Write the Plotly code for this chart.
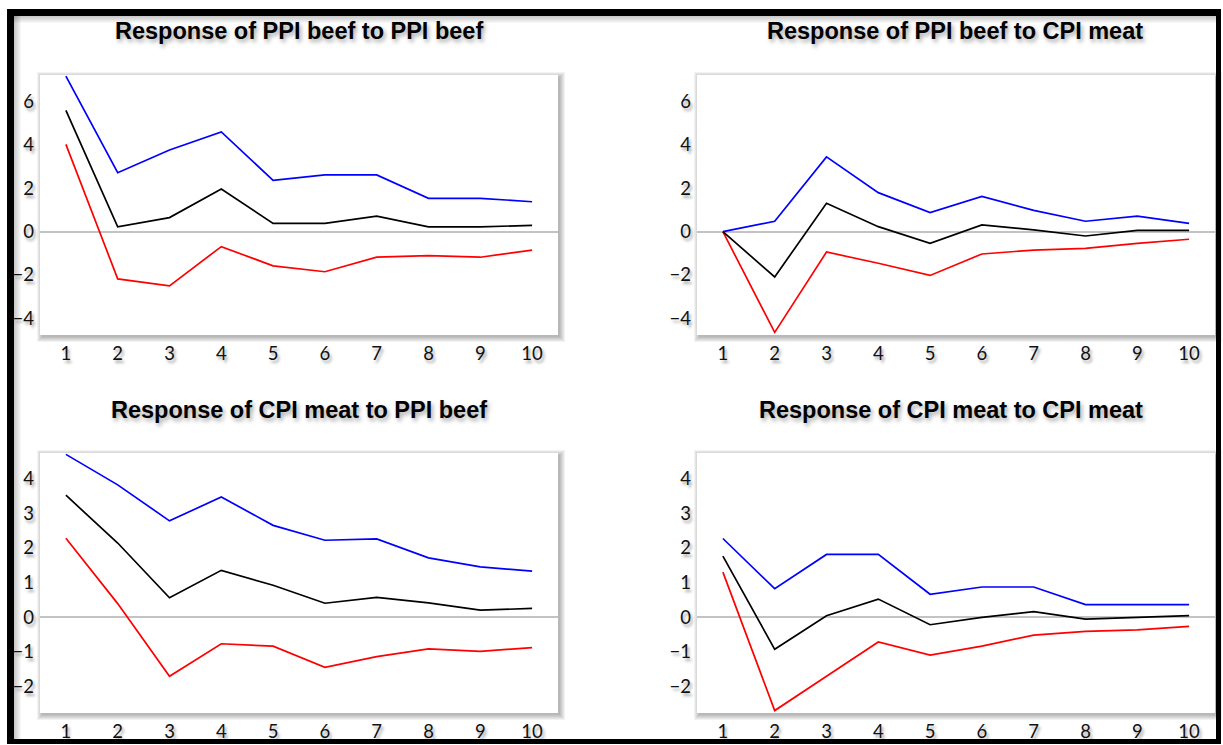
import plotly.graph_objects as go

# ---------------- data ----------------
periods = [1, 2, 3, 4, 5, 6, 7, 8, 9, 10]

titles = [
    "Response of PPI beef to PPI beef",
    "Response of PPI beef to CPI meat",
    "Response of CPI meat to PPI beef",
    "Response of CPI meat to CPI meat",
]

# Response of PPI beef to PPI beef
p1_upper = [7.18, 2.72, 3.77, 4.60, 2.37, 2.62, 2.62, 1.54, 1.54, 1.38]
p1_irf   = [5.60, 0.22, 0.65, 1.97, 0.38, 0.38, 0.72, 0.22, 0.22, 0.29]
p1_lower = [4.03, -2.18, -2.50, -0.69, -1.58, -1.85, -1.18, -1.11, -1.18, -0.85]

# Response of PPI beef to CPI meat
p2_upper = [0.00, 0.48, 3.45, 1.80, 0.88, 1.63, 0.98, 0.48, 0.72, 0.38]
p2_irf   = [0.00, -2.09, 1.31, 0.23, -0.54, 0.31, 0.08, -0.20, 0.06, 0.06]
p2_lower = [0.00, -4.65, -0.94, -1.46, -2.02, -1.03, -0.85, -0.77, -0.54, -0.35]

# Response of CPI meat to PPI beef
p3_upper = [4.70, 3.82, 2.78, 3.47, 2.65, 2.22, 2.26, 1.71, 1.45, 1.33]
p3_irf   = [3.52, 2.14, 0.56, 1.35, 0.92, 0.40, 0.57, 0.41, 0.20, 0.25]
p3_lower = [2.28, 0.39, -1.71, -0.77, -0.84, -1.45, -1.14, -0.92, -0.99, -0.88]

# Response of CPI meat to CPI meat
p4_upper = [2.27, 0.82, 1.81, 1.81, 0.66, 0.87, 0.87, 0.36, 0.36, 0.36]
p4_irf   = [1.76, -0.93, 0.04, 0.52, -0.22, -0.01, 0.16, -0.06, -0.01, 0.04]
p4_lower = [1.30, -2.70, -1.71, -0.72, -1.10, -0.84, -0.52, -0.41, -0.37, -0.27]

yticks_top = [-4, -2, 0, 2, 4, 6]
yticks_bottom = [-2, -1, 0, 1, 2, 3, 4]

# ---------------- layout helpers ----------------
W, H = 1223, 745
def px(x):
    return x / W
def py(y):
    return 1 - y / H

# plot-area rectangles in pixels (left, top, right, bottom)
rects = [
    (40, 75, 558, 335),
    (697, 75, 1215, 335),
    (40, 453, 558, 713),
    (697, 453, 1215, 713),
]
yranges = [[-4.77, 7.23], [-4.77, 7.23], [-2.77, 4.74], [-2.77, 4.74]]
ytickss = [yticks_top, yticks_top, yticks_bottom, yticks_bottom]
title_pos = [(299, 31), (955, 31), (299, 410), (951, 410)]

series = [
    (p1_upper, p1_irf, p1_lower),
    (p2_upper, p2_irf, p2_lower),
    (p3_upper, p3_irf, p3_lower),
    (p4_upper, p4_irf, p4_lower),
]

tick_font = dict(family="Lato, Calibri, sans-serif", size=18.5, color="#111111",
                 shadow="2px 3px 3px rgba(0,0,0,0.35)")
title_font = dict(family="Liberation Sans, Arial, sans-serif", size=23.5, color="black",
                  weight="bold", shadow="2px 3px 4px rgba(0,0,0,0.35)")

fig = go.Figure()
layout = dict(
    width=W, height=H, margin=dict(l=0, r=0, t=0, b=0),
    paper_bgcolor="white", plot_bgcolor="rgba(0,0,0,0)",
    showlegend=False,
)
shapes = []
annotations = []

for i, (rect, yr, yt, ser, tp, ttl) in enumerate(
        zip(rects, yranges, ytickss, series, title_pos, titles)):
    n = i + 1
    xa = "xaxis" if n == 1 else f"xaxis{n}"
    ya = "yaxis" if n == 1 else f"yaxis{n}"
    xr = "x" if n == 1 else f"x{n}"
    yrf = "y" if n == 1 else f"y{n}"
    l, t, r, b = rect
    layout[xa] = dict(
        domain=[px(l), px(r)], anchor=yrf, range=[0.5, 10.5],
        tickvals=periods, ticktext=[str(p) for p in periods],
        showgrid=False, zeroline=False, showline=False, ticks="",
        tickfont=tick_font, ticklabelstandoff=5, fixedrange=True,
    )
    layout[ya] = dict(
        domain=[py(b), py(t)], anchor=xr, range=yr, tickvals=yt,
        showgrid=False, zeroline=True, zerolinecolor="#c3c3c3", zerolinewidth=1.5,
        showline=False, ticks="", tickfont=tick_font, ticklabelstandoff=5,
        fixedrange=True,
    )
    up, mid, lo = ser
    for vals, col in ((up, "#0000ff"), (lo, "#ff0000"), (mid, "#000000")):
        fig.add_trace(go.Scatter(x=periods, y=vals, mode="lines", xaxis=xr, yaxis=yrf,
                                 line=dict(color=col, width=1.7), hoverinfo="skip"))
    # soft drop shadow + white plot area
    for k in range(6):
        shapes.append(dict(type="rect", xref="paper", yref="paper", layer="below",
                           x0=px(l + 2 - k), x1=px(r + 2 + k),
                           y0=py(b + 2 + k), y1=py(t + 2 - k),
                           line=dict(width=0), fillcolor="rgba(0,0,0,0.05)"))
    shapes.append(dict(type="rect", xref="paper", yref="paper", layer="below",
                       x0=px(l), x1=px(r), y0=py(b), y1=py(t),
                       line=dict(width=0), fillcolor="white"))
    annotations.append(dict(text=ttl, x=px(tp[0]), y=py(tp[1]), xref="paper", yref="paper",
                            xanchor="center", yanchor="middle", showarrow=False,
                            font=title_font))

# inset shadow just inside the frame (top and left)
for k in range(1, 8):
    shapes.append(dict(type="rect", xref="paper", yref="paper", layer="below",
                       x0=px(14), x1=px(1216), y0=py(16 + k), y1=py(16),
                       line=dict(width=0), fillcolor="rgba(0,0,0,0.03)"))
    shapes.append(dict(type="rect", xref="paper", yref="paper", layer="below",
                       x0=px(14), x1=px(14 + k), y0=py(739), y1=py(16),
                       line=dict(width=0), fillcolor="rgba(0,0,0,0.03)"))

# black frame
frame = [(7, 9, 1221, 16), (7, 9, 14, 744), (1216, 9, 1221, 744), (7, 739, 1221, 744)]
for x0, y0, x1, y1 in frame:
    shapes.append(dict(type="rect", xref="paper", yref="paper", layer="above",
                       x0=px(x0), x1=px(x1), y0=py(y1), y1=py(y0),
                       line=dict(width=0), fillcolor="black"))

layout["shapes"] = shapes
layout["annotations"] = annotations
fig.update_layout(**layout)
fig.write_html("out.html")
